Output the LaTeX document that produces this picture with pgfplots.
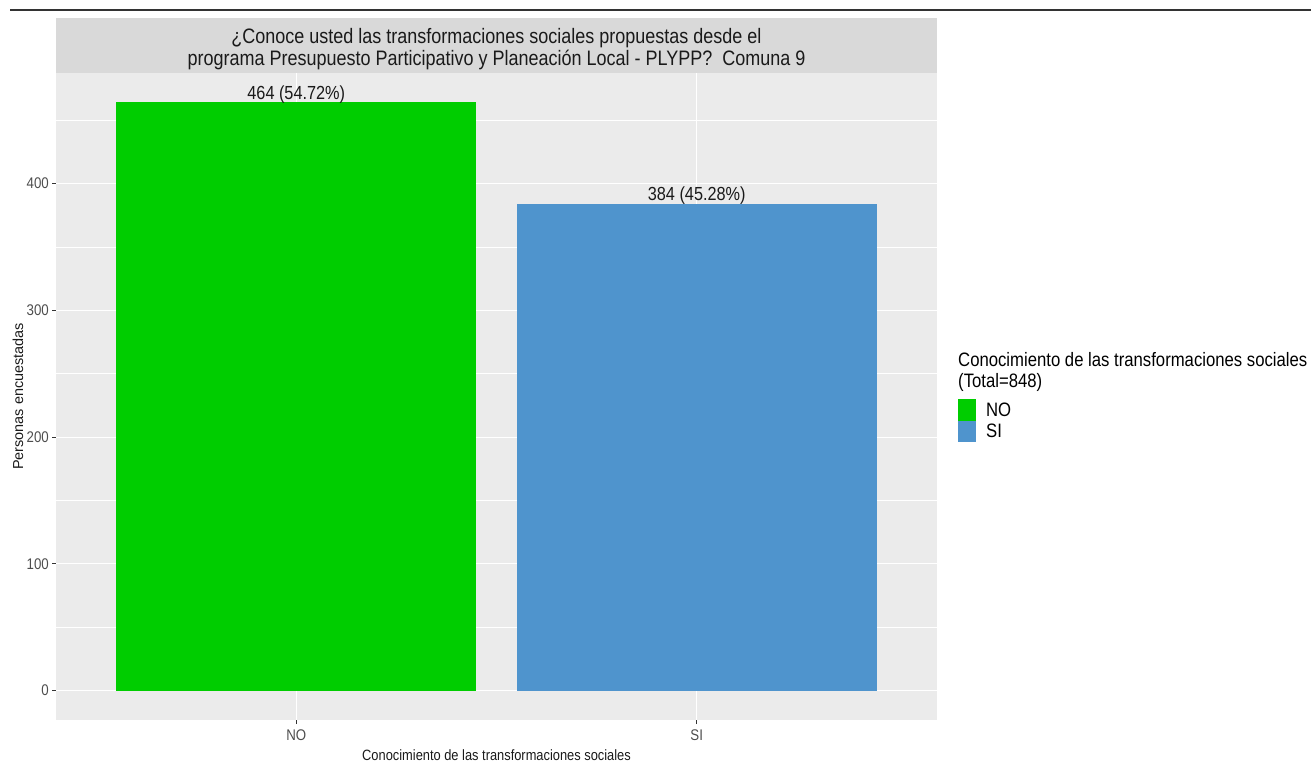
\documentclass[border=0pt]{standalone}
\usepackage{pgfplots}
\pgfplotsset{compat=1.18}
\usepackage{fontspec}
\setmainfont{Liberation Sans}[FakeStretch=0.86]
\newfontfamily\plainsans{Liberation Sans}
\definecolor{panel}{HTML}{EBEBEB}
\definecolor{strip}{HTML}{D9D9D9}
\definecolor{nogreen}{HTML}{00CD00}
\definecolor{siblue}{HTML}{4F94CD}
\definecolor{tickgray}{HTML}{4D4D4D}
\definecolor{tickdark}{HTML}{333333}
\definecolor{titletext}{HTML}{1A1A1A}
\begin{document}
\begin{tikzpicture}
\path[use as bounding box] (0bp,0bp) rectangle (1311bp,763bp);
\draw[line width=1.5bp, black!80] (10bp,753bp) -- (1311bp,753bp);
\begin{axis}[
  at={(56bp,43bp)}, anchor=south west,
  scale only axis, width=881bp, height=647bp,
  xmin=0.4, xmax=2.6, ymin=-23.2, ymax=487.2,
  axis background/.style={fill=panel},
  axis line style={draw=none},
  xtick={1,2}, xticklabels={NO,SI},
  ytick={0,100,200,300,400},
  minor ytick={50,150,250,350,450},
  grid=both,
  major grid style={white, line width=1.1bp},
  minor grid style={white, line width=0.55bp},
  tick style={color=tickdark, line width=0.8bp},
  major tick length=4bp, minor tick length=0pt,
  tick align=outside, tick pos=left,
  /pgf/number format/assume math mode=true,
  ticklabel style={font=\fontsize{15.5}{17}\selectfont, text=tickgray},
  yticklabel style={anchor=east, inner sep=0pt, xshift=-3bp},
  xticklabel style={anchor=north, inner sep=0pt, yshift=-6bp},
  xlabel={Conocimiento de las transformaciones sociales},
  ylabel={Personas encuestadas},
  x label style={font=\fontsize{15}{17}\selectfont, text=titletext, at={(axis description cs:0.5,-0.0541)}, anchor=center},
  y label style={font=\plainsans\fontsize{14.5}{17}\selectfont, text=titletext, at={(axis description cs:-0.0431,0.5)}, anchor=center, rotate=0},
  legend style={at={(1.0238,0.4961)}, anchor=north west, draw=none, fill=none,
    font=\fontsize{19.5}{21}\selectfont, inner sep=0pt, row sep=0pt, column sep=10bp,
    nodes={inner sep=0pt}},
  legend cell align=left,
  nodes near coords, point meta=explicit symbolic,
  every node near coord/.append style={font=\fontsize{19}{21}\selectfont, text=titletext, anchor=base, inner sep=0pt, yshift=3bp},
]
\addplot[ybar, bar width=0.9, bar shift=0pt, fill=nogreen, draw=none,
  legend image code/.code={\fill[nogreen] (0bp,-10.75bp) rectangle (18bp,10.75bp);}]
  coordinates {(1,464) [464 (54.72\%)]};
\addlegendentry{NO}
\addplot[ybar, bar width=0.9, bar shift=0pt, fill=siblue, draw=none,
  legend image code/.code={\fill[siblue] (0bp,-10.75bp) rectangle (18bp,10.75bp);}]
  coordinates {(2,384) [384 (45.28\%)]};
\addlegendentry{SI}
\end{axis}
\fill[strip] (56bp,690bp) rectangle (937bp,745bp);
\node[anchor=base, inner sep=0pt, font=\fontsize{21}{22}\selectfont, text=titletext] at (496.5bp,719.5bp)
  {¿Conoce usted las transformaciones sociales propuestas desde el};
\node[anchor=base, inner sep=0pt, font=\fontsize{21}{22}\selectfont, text=titletext] at (496.5bp,697.5bp)
  {programa Presupuesto Participativo y Planeación Local - PLYPP?\ \ Comuna 9};
\node[anchor=base west, inner sep=0pt, font=\fontsize{19.5}{21}\selectfont] at (958bp,396bp)
  {Conocimiento de las transformaciones sociales};
\node[anchor=base west, inner sep=0pt, font=\fontsize{19.5}{21}\selectfont] at (958bp,375bp)
  {(Total=848)};
\end{tikzpicture}
\end{document}
